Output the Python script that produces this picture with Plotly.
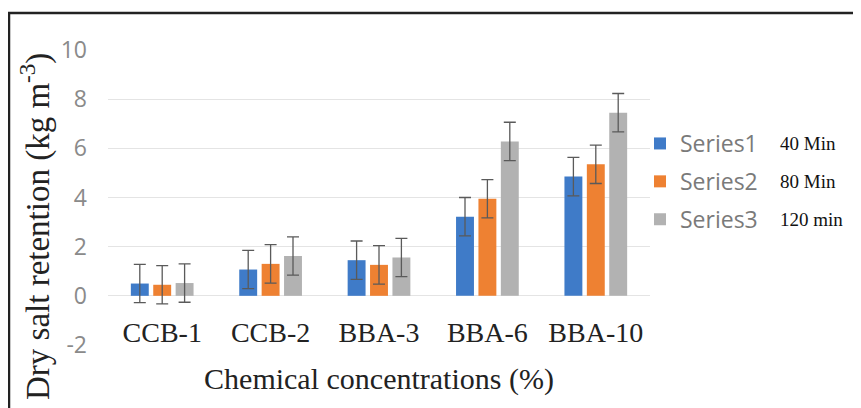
import plotly.graph_objects as go

categories = ["CCB-1", "CCB-2", "BBA-3", "BBA-6", "BBA-10"]
series_names = ["Series1", "Series2", "Series3"]
series_times = ["40 Min", "80 Min", "120 min"]
s1 = [0.50, 1.07, 1.45, 3.22, 4.85]
s2 = [0.45, 1.30, 1.26, 3.95, 5.35]
s3 = [0.52, 1.62, 1.56, 6.28, 7.45]
err1 = [0.78, 0.78, 0.78, 0.78, 0.78]
err2 = [0.78, 0.78, 0.78, 0.78, 0.78]
err3 = [0.78, 0.78, 0.78, 0.78, 0.78]
y_ticks = [-2, 0, 2, 4, 6, 8, 10]
y_ticktext = ["-2", "0", "2", "4", "6", "8", "10"]

colors = ["#3F7BC8", "#EE8132", "#B2B2B2"]

OFF = 8  # page body margin
W, H = 861 - OFF, 408 - OFF
L, R, T, B = 108 - OFF, 211, 50 - OFF, 63
pw, ph = W - L - R, H - T - B

def px_x(x):
    return (x - OFF - L) / pw

def px_y(y):
    return (H - B - (y - OFF)) / ph

fig = go.Figure()
for name, vals, errs, col in zip(series_names, [s1, s2, s3], [err1, err2, err3], colors):
    fig.add_trace(go.Bar(
        x=categories, y=vals, name=name, legendgroup=name,
        marker=dict(color=col, line=dict(width=0)),
        error_y=dict(type="data", array=errs, visible=True, color="#5a5a5a", thickness=1.3, width=6),
    ))

fig.update_layout(
    width=W, height=H,
    margin=dict(l=L, r=R, t=T, b=B),
    paper_bgcolor="white", plot_bgcolor="white",
    barmode="group", bargap=0.38, bargroupgap=0.2,
    showlegend=True,
    legend=dict(x=px_x(640), y=px_y(122), xanchor="left", yanchor="top",
                traceorder="grouped", tracegroupgap=5,
                font=dict(family="Open Sans", size=23, color="#7a7a7a"),
                bgcolor="rgba(0,0,0,0)", itemclick=False),
    xaxis=dict(
        anchor="free", position=2 / 12,
        showgrid=False, showline=False, zeroline=False, ticks="",
        ticklabelstandoff=17,
        tickfont=dict(family="Liberation Serif", size=28, color="#222222"),
        title=dict(text="Chemical concentrations (%)", standoff=21,
                   font=dict(family="Liberation Serif", size=30, color="#222222")),
    ),
    yaxis=dict(
        range=[-2, 10], tickvals=y_ticks, ticktext=y_ticktext,
        showgrid=True, gridcolor="#e4e4e4", gridwidth=1,
        zeroline=False, showline=False, ticks="", ticklabelstandoff=20,
        tickfont=dict(family="Open Sans", size=23, color="#8a8a8a"),
    ),
    annotations=[
        dict(text="Dry salt retention (kg m<sup>-3</sup>)", xref="paper", yref="paper",
             x=px_x(35), y=px_y(227), xanchor="center", yanchor="middle", textangle=-90,
             showarrow=False, font=dict(family="Liberation Serif", size=33, color="#222222")),
    ] + [
        dict(text=t, xref="paper", yref="paper", x=px_x(778), y=px_y(yc),
             xanchor="left", yanchor="middle", showarrow=False,
             font=dict(family="Liberation Serif", size=19, color="#111111"))
        for t, yc in zip(series_times, [143, 181, 219])
    ],
    shapes=[
        dict(type="rect", xref="paper", yref="paper",
             x0=px_x(9), y0=px_y(13), x1=px_x(880), y1=px_y(430),
             line=dict(color="#222222", width=2.5), fillcolor="rgba(0,0,0,0)", layer="above"),
    ],
)

fig.write_html("out.html")
